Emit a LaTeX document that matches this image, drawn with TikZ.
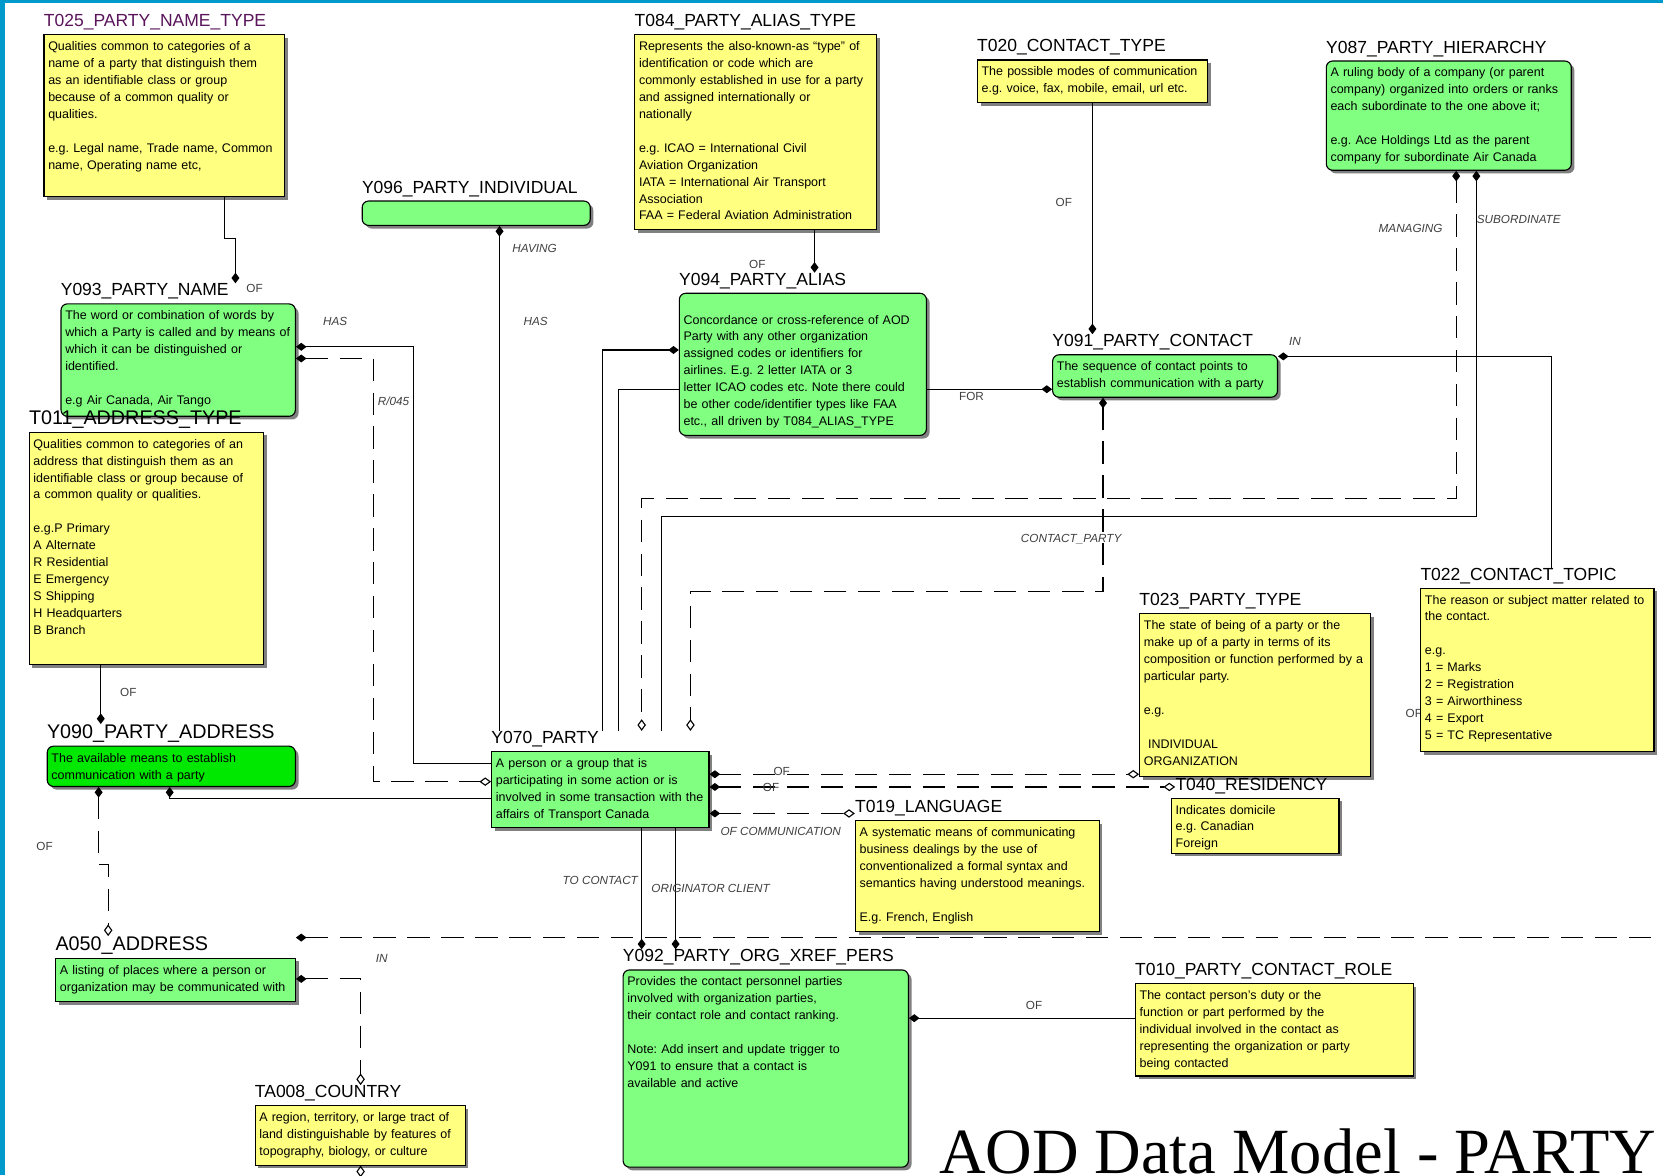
\documentclass[tikz,border=0pt]{standalone}
\usepackage{fontspec}
\setmainfont{Liberation Sans}
\newfontfamily\titlefont{Liberation Serif}
\usetikzlibrary{arrows.meta,shadows,positioning}
\definecolor{entY}{RGB}{255,255,128}
\definecolor{entG}{RGB}{128,255,128}
\definecolor{entGG}{RGB}{0,232,0}
\definecolor{edgeB}{RGB}{0,153,204}
\definecolor{nameP}{RGB}{90,20,90}

\begin{document}
\frenchspacing
\begin{tikzpicture}[x=0.02cm,y=-0.02cm,
  ent/.style={draw,line width=0.6pt,anchor=north west,inner xsep=0.08cm,inner ysep=0.1cm,
    align=left,text height=0.2cm,font=\fontsize{6.7}{9.1}\selectfont,
    drop shadow={shadow xshift=0.06cm,shadow yshift=-0.06cm,fill=black!50,opacity=1}},
  ytab/.style={ent,fill=entY},
  gtab/.style={ent,fill=entG,rounded corners=0.12cm},
  gsq/.style={ent,fill=entG},
  ename/.style={anchor=base west,inner sep=0pt,font=\fontsize{9.4}{9.4}\selectfont},
  bigname/.style={ename,font=\fontsize{10.6}{10.6}\selectfont},
  lbl/.style={inner sep=0pt,font=\fontsize{6.3}{6.3}\selectfont\itshape,text=black!75},
  lblu/.style={lbl,font=\fontsize{6.3}{6.3}\selectfont},
  rel/.style={line width=0.6pt},
  idf/.style={rel,dash pattern=on 0.42cm off 0.22cm},
  fdm/.tip={Diamond[length=0.2cm,width=0.15cm]},
  odm/.tip={Diamond[open,length=0.22cm,width=0.16cm]}]
\useasboundingbox (0,0) rectangle (1568,1108);
\clip (0,0) rectangle (1568,1108);
\fill[white] (0,0) rectangle (1568,1108);
\fill[edgeB] (0,0) rectangle (5,1108);
\fill[edgeB] (0,0) rectangle (1568,3);
\node[lblu] (l22) at (1333,673) {OF};
% entities
\node[ytab,text width=4.38cm,text depth=2.66cm] (t025) at (41,32) {Qualities common to categories of a\\ name of a party that distinguish them\\ as an identifiable class or group\\ because of a common quality or\\ qualities.\\[9.1pt] e.g. Legal name, Trade name, Common\\ name, Operating name etc,};
\node[gtab,text width=4.14cm,text depth=0.06cm] (y096) at (341,189) {};
\node[ytab,text width=4.40cm,text depth=3.28cm] (t084) at (598,32) {Represents the also-known-as ``type'' of\\ identification or code which are\\ commonly established in use for a party\\ and assigned internationally or\\ nationally\\[9.1pt] e.g. ICAO = International Civil\\ Aviation Organization\\ IATA = International Air Transport\\ Association\\ FAA = Federal Aviation Administration};
\node[ytab,text width=4.18cm,text depth=0.40cm] (t020) at (921,56) {The possible modes of communication\\ e.g. voice, fax, mobile, email, url etc.};
\node[gtab,text width=4.46cm,text depth=1.66cm] (y087) at (1250,57) {A ruling body of a company (or parent\\ company) organized into orders or ranks\\ each subordinate to the one above it;\\[9.1pt] e.g. Ace Holdings Ltd as the parent\\ company for subordinate Air Canada};
\node[gtab,text width=4.26cm,text depth=1.72cm] (y093) at (57,286) {The word or combination of words by\\ which a Party is called and by means of\\ which it can be distinguished or\\ identified.\\[9.1pt] e.g Air Canada, Air Tango};
\node[ytab,text width=4.26cm,text depth=3.98cm] (t011) at (27,407) {Qualities common to categories of an\\ address that distinguish them as an\\ identifiable class or group because of\\ a common quality or qualities.\\[9.1pt] e.g.P Primary\\ A Alternate\\ R Residential\\ E Emergency\\ S Shipping\\ H Headquarters\\ B Branch};
\node[gtab,text width=4.50cm,text height=0.48cm,text depth=2.0cm] (y094) at (640,276) {Concordance or cross-reference of AOD\\ Party with any other organization\\ assigned codes or identifiers for\\ airlines. E.g. 2 letter IATA or 3\\ letter ICAO codes etc. Note there could\\ be other code/identifier types like FAA\\ etc., all driven by T084\_ALIAS\_TYPE};
\node[gtab,text width=4.08cm,text depth=0.40cm] (y091) at (992,334) {The sequence of contact points to\\ establish communication with a party};
\node[gtab,fill=entGG,text width=4.52cm,text depth=0.36cm] (y090) at (44,703) {The available means to establish\\ communication with a party};
\node[gsq,text width=3.94cm,text depth=1.04cm] (y070) at (463,708) {A person or a group that is\\ participating in some action or is\\ involved in some transaction with the\\ affairs of Transport Canada};
\node[ytab,text width=4.20cm,text depth=2.68cm] (t023) at (1074,578) {The state of being of a party or the\\ make up of a party in terms of its\\ composition or function performed by a\\ particular party.\\[9.1pt] e.g.\\[9.1pt] \ INDIVIDUAL\\ ORGANIZATION};
\node[ytab,text width=4.24cm,text depth=2.68cm] (t022) at (1339,554) {The reason or subject matter related to\\ the contact.\\[9.1pt] e.g.\\ 1 = Marks\\ 2 = Registration\\ 3 = Airworthiness\\ 4 = Export\\ 5 = TC Representative};
\node[ytab,text width=3.00cm,text depth=0.64cm] (t040) at (1104,752) {Indicates domicile\\ e.g. Canadian\\ Foreign};
\node[ytab,text width=4.44cm,text depth=1.70cm] (t019) at (806,773) {A systematic means of communicating\\ business dealings by the use of\\ conventionalized a formal syntax and\\ semantics having understood meanings.\\[9.1pt] E.g. French, English};
\node[gsq,text width=4.36cm,text depth=0.42cm] (a050) at (52,903) {A listing of places where a person or\\ organization may be communicated with};
\node[gtab,text width=5.22cm,text depth=3.32cm] (y092) at (587,914) {Provides the contact personnel parties\\ involved with organization parties,\\ their contact role and contact ranking.\\[9.1pt] Note: Add insert and update trigger to\\ Y091 to ensure that a contact is\\ available and active};
\node[ytab,text width=5.08cm,text depth=1.34cm] (t010) at (1070,927) {The contact person's duty or the\\ function or part performed by the\\ individual involved in the contact as\\ representing the organization or party\\ being contacted};
\node[ytab,text width=3.80cm,text depth=0.72cm] (ta008) at (240,1042) {A region, territory, or large tract of\\ land distinguishable by features of\\ topography, biology, or culture};
% entity names
\node[ename,text=nameP] (t025n) at ([yshift=0.14cm]t025.north west) {T025\_PARTY\_NAME\_TYPE};
\node[ename] (y096n) at ([yshift=0.14cm]y096.north west) {Y096\_PARTY\_INDIVIDUAL};
\node[ename] (t084n) at ([yshift=0.14cm]t084.north west) {T084\_PARTY\_ALIAS\_TYPE};
\node[ename] (t020n) at ([yshift=0.14cm]t020.north west) {T020\_CONTACT\_TYPE};
\node[ename] (y087n) at ([yshift=0.14cm]y087.north west) {Y087\_PARTY\_HIERARCHY};
\node[ename] (y093n) at ([yshift=0.14cm]y093.north west) {Y093\_PARTY\_NAME};
\node[bigname] (t011n) at ([yshift=0.14cm]t011.north west) {T011\_ADDRESS\_TYPE};
\node[ename] (y094n) at ([yshift=0.14cm]y094.north west) {Y094\_PARTY\_ALIAS};
\node[ename] (y091n) at ([yshift=0.14cm]y091.north west) {Y091\_PARTY\_CONTACT};
\node[bigname] (y090n) at ([yshift=0.14cm]y090.north west) {Y090\_PARTY\_ADDRESS};
\node[ename] (y070n) at ([yshift=0.14cm]y070.north west) {Y070\_PARTY};
\node[ename] (t023n) at ([yshift=0.14cm]t023.north west) {T023\_PARTY\_TYPE};
\node[ename] (t022n) at ([yshift=0.14cm]t022.north west) {T022\_CONTACT\_TOPIC};
\node[ename] (t040n) at ([xshift=0.08cm,yshift=0.14cm]t040.north west) {T040\_RESIDENCY};
\node[ename] (t019n) at ([yshift=0.14cm]t019.north west) {T019\_LANGUAGE};
\node[bigname] (a050n) at ([yshift=0.14cm]a050.north west) {A050\_ADDRESS};
\node[ename] (y092n) at ([yshift=0.14cm]y092.north west) {Y092\_PARTY\_ORG\_XREF\_PERS};
\node[ename] (t010n) at ([yshift=0.14cm]t010.north west) {T010\_PARTY\_CONTACT\_ROLE};
\node[ename] (ta008n) at ([yshift=0.14cm]ta008.north west) {TA008\_COUNTRY};
% relationships
\draw[rel,-fdm] (212,0 |- t025.south) -- (212,225) -- (222,225) -- (222,0 |- y093n.north);
\draw[rel,fdm-] (471,0 |- y096.south) -- (471,0 |- y070n.north);
\draw[rel,fdm-] (y093.east |- 0,327) -- (390,327) -- (390,720) -- (y070.west |- 0,720);
\draw[idf,fdm-odm] (y093.east |- 0,338) -- (352,338) -- (352,737) -- (y070.west |- 0,737);
\draw[rel,-fdm] (768,0 |- t084.south) -- (768,0 |- y094n.north);
\draw[rel,fdm-] (y094.west |- 0,330) -- (568,330) -- (568,0 |- y070n.north);
\draw[rel] (y094.west |- 0,367) -- (583,367) -- (583,0 |- y070n.north);
\draw[rel,-fdm] (y094.east |- 0,367) -- (y091.west |- 0,367);
\draw[rel,-fdm] (1030,0 |- t020.south) -- (1030,0 |- y091n.north);
\draw[rel,fdm-] (y091.east |- 0,336) -- (1463,336) -- (1463,0 |- t022n.north);
\draw[idf,fdm-odm] (1040,0 |- y091.south) -- (1040,558) -- (651,558) -- (651,0 |- y070n.north);
\draw[idf,fdm-odm] (1373,0 |- y087.south) -- (1373,470) -- (605,470) -- (605,0 |- y070n.north);
\draw[rel,fdm-] (1392,0 |- y087.south) -- (1392,487) -- (624,487) -- (624,0 |- y070n.north);
\draw[rel,-fdm] (95,0 |- t011.south) -- (95,0 |- y090n.north);
\draw[idf,fdm-odm] (93,0 |- y090.south) -- (93,815) -- (102,815) -- (102,0 |- a050n.north);
\draw[rel,fdm-] (160,0 |- y090.south) -- (160,753) -- (y070.west |- 0,753);
\draw[idf,fdm-odm] (y070.east |- 0,730) -- (t023.west |- 0,730);
\draw[idf,fdm-odm] (y070.east |- 0,742) -- (t040n.west |- 0,742);
\draw[idf,fdm-odm] (y070.east |- 0,767) -- (t019n.west |- 0,767);
\draw[rel,-fdm] (605,0 |- y070.south) -- (605,0 |- y092n.north);
\draw[rel,-fdm] (637,0 |- y070.south) -- (637,0 |- y092n.north);
\coordinate (offR) at (1580,884);
\draw[idf,fdm-] (a050.east |- 0,884) -- (offR);
\draw[idf,fdm-odm] (a050.east |- 0,923) -- (340,923) -- (340,0 |- ta008n.north);
\coordinate (offB) at (340,1120);
\draw[rel,odm-] (340,0 |- ta008.south) -- (offB);
\draw[rel,fdm-] (y092.east |- 0,960) -- (t010.west |- 0,960);
% role names
\node[lblu] (l1) at (240,272) {OF};
\node[lbl] (l2) at (504,234) {HAVING};
\node[lbl] (l3) at (505,303) {HAS};
\node[lbl] (l4) at (316,303) {HAS};
\node[lbl] (l5) at (371,378) {R/045};
\node[lblu] (l6) at (714,249) {OF};
\node[lblu] (l7) at (916,374) {FOR};
\node[lblu] (l8) at (1003,191) {OF};
\node[lbl] (l9) at (1221,322) {IN};
\node[lbl] (l10) at (1330,215) {MANAGING};
\node[lbl] (l11) at (1432,207) {SUBORDINATE};
\node[lbl] (l12) at (1010,508) {CONTACT\_PARTY};
\node[lblu] (l13) at (121,653) {OF};
\node[lblu] (l14) at (42,798) {OF};
\node[lblu] (l15) at (737,727) {OF};
\node[lblu] (l16) at (727,742) {OF};
\node[lbl,anchor=west] (l17) at (679,784) {OF COMMUNICATION};
\node[lbl] (l18) at (566,830) {TO CONTACT};
\node[lbl] (l19) at (670,838) {ORIGINATOR CLIENT};
\node[lbl] (l20) at (360,904) {IN};
\node[lblu] (l21) at (975,948) {OF};
% model title
\node[anchor=base west,inner sep=0pt,font=\titlefont\fontsize{34.6}{34.6}\selectfont] (ttl) at (885,1106) {AOD Data Model - PARTY};
\end{tikzpicture}
\end{document}
